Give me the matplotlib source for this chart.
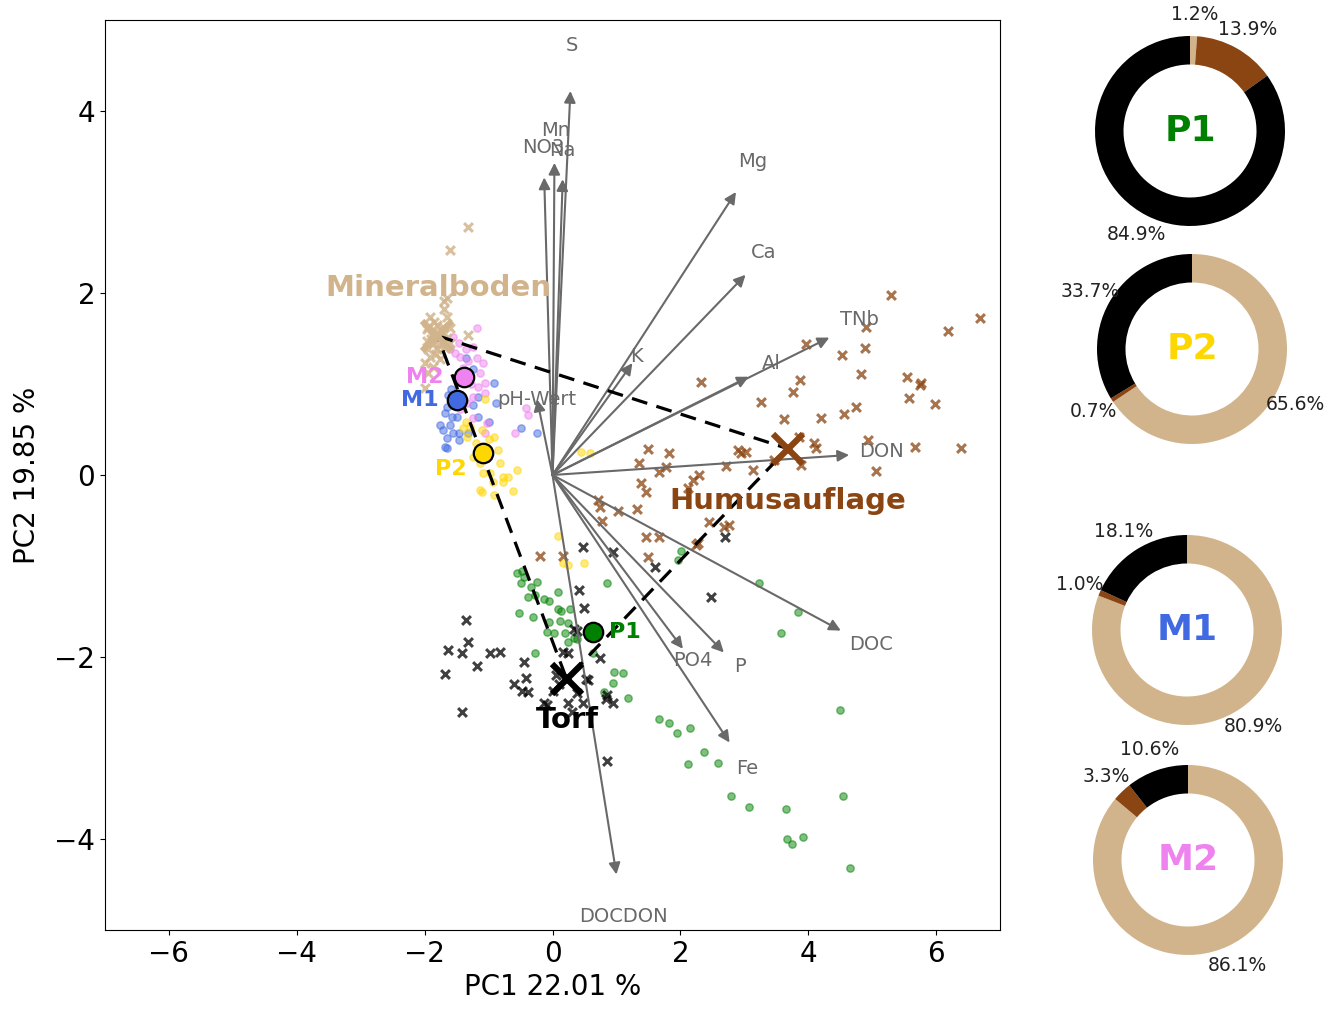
import matplotlib
matplotlib.use("Agg")
import matplotlib.pyplot as plt
import numpy as np

# ---------------- data ----------------
var_names = ["S", "Mn", "NO3", "Na", "Mg", "Ca", "K", "Al", "TNb", "DON",
             "DOC", "PO4", "P", "Fe", "DOCDON", "pH-Wert"]
var_tip_x = [0.28, 0.03, -0.13, 0.16, 2.87, 3.02, 1.25, 3.07, 4.33, 4.64,
             4.51, 2.04, 2.68, 2.77, 1.00, -0.24]
var_tip_y = [4.22, 3.43, 3.27, 3.25, 3.11, 2.20, 1.23, 1.08, 1.51, 0.22,
             -1.71, -1.91, -1.95, -2.94, -4.39, 0.83]
var_lab_x = [0.31, 0.05, -0.14, 0.16, 3.13, 3.31, 1.32, 3.42, 4.80, 5.14,
             4.98, 2.19, 2.93, 3.04, 1.11, -0.25]
var_lab_y = [4.72, 3.79, 3.60, 3.57, 3.45, 2.45, 1.30, 1.22, 1.71, 0.26,
             -1.86, -2.04, -2.10, -3.23, -4.85, 0.83]

# end members (sources)
em_names = ["Mineralboden", "Humusauflage", "Torf"]
em_x = [-1.80, 3.68, 0.22]
em_y = [1.53, 0.29, -2.24]
em_lab_x = [-1.79, 3.68, 0.24]
em_lab_y = [2.05, -0.29, -2.69]

mineral_x = [-1.32, -1.61, -1.69, -1.65, -1.91, -1.65, -1.94, -1.80, -1.71, -1.60,
             -1.88, -1.76, -1.65, -1.96, -1.87, -1.94, -1.80, -1.91, -1.99, -1.76,
             -1.87, -1.94, -1.32, -1.60, -1.99, -1.85, -1.72, -1.90, -1.78, -1.68,
             -1.83, -1.97, -1.70, -1.86]
mineral_y = [2.72, 2.47, 1.91, 1.95, 1.74, 1.74, 1.63, 1.65, 1.63, 1.62,
             1.54, 1.52, 1.51, 1.47, 1.45, 1.38, 1.38, 1.30, 1.23, 1.27,
             1.19, 1.12, 1.54, 1.45, 0.96, 1.58, 1.57, 1.50, 1.43, 1.40,
             1.33, 1.60, 1.82, 1.68]

humus_x = [5.30, 6.69, 6.18, 4.91, 4.89, 4.53, 3.97, 4.83, 5.55, 5.77,
           5.75, 5.58, 5.99, 3.87, 3.76, 3.26, 2.32, 4.75, 4.56, 4.20,
           3.62, 3.86, 4.09, 4.12, 4.94, 5.67, 6.39, 5.06, 3.89, 2.90,
           3.02, 2.95, 2.71, 3.13, 3.46, 1.82, 1.49, 1.35, 1.66, 1.77,
           2.29, 2.19, 2.12, 1.38, 1.46, 0.71, 0.75, 1.02, 1.32, 0.78,
           1.46, 1.66, 2.45, 2.68, 2.76, 2.24, -0.20, 0.16, 1.50, 2.27]
humus_y = [1.98, 1.72, 1.58, 1.63, 1.40, 1.32, 1.44, 1.11, 1.08, 1.01,
           0.99, 0.85, 0.78, 1.04, 0.91, 0.80, 1.02, 0.75, 0.67, 0.63,
           0.62, 0.42, 0.35, 0.30, 0.39, 0.31, 0.30, 0.04, 0.11, 0.28,
           0.25, 0.24, 0.10, 0.06, 0.17, 0.24, 0.29, 0.13, 0.03, 0.09,
           0.00, -0.06, -0.14, -0.09, -0.19, -0.28, -0.35, -0.40, -0.37, -0.50,
           -0.68, -0.68, -0.52, -0.57, -0.55, -0.77, -0.89, -0.89, -0.90, -0.75]

torf_x = [-1.36, -1.32, -1.63, -1.41, -0.97, -0.82, -1.18, -1.68, -1.41, -0.45,
          -0.42, -0.61, -0.47, -0.39, 0.00, -0.08, 0.24, 0.39, 0.55, 0.47,
          0.39, 0.17, 0.74, 0.86, 0.94, 0.83, 0.86, -0.14, 0.24, 0.52,
          0.33, 0.47, 0.94, 1.60, 0.41, 0.49, 2.70, 2.48, 0.30, 0.10,
          0.05]
torf_y = [-1.59, -1.83, -1.92, -1.96, -1.96, -1.94, -2.10, -2.19, -2.60, -2.06,
          -2.23, -2.30, -2.37, -2.39, -2.37, -2.53, -2.50, -2.40, -2.25, -2.51,
          -1.71, -1.95, -2.01, -2.42, -2.50, -2.46, -3.14, -2.51, -1.96, -2.24,
          -1.69, -0.79, -0.85, -1.01, -1.26, -1.46, -0.68, -1.34, -2.60, -2.30,
          -2.20]

# samples (mixtures)
m1_x = [-1.36, -1.24, -0.92, -1.16, -1.63, -1.65, -1.68, -1.76, -1.60, -1.49,
        -1.47, -1.65, -1.71, -1.55, -1.24, -1.16, -0.89, -0.50, -0.24, -1.32,
        -1.68, -1.57, -1.00, -1.65, -1.47, -1.58, -1.40]
m1_y = [1.29, 1.16, 1.01, 0.86, 0.88, 0.75, 0.68, 0.55, 0.55, 0.64,
        0.46, 0.41, 0.50, 0.46, 0.77, 0.64, 0.79, 0.52, 0.46, 0.46,
        0.31, 0.64, 0.58, 0.30, 0.39, 0.95, 1.05]

m2_x = [-1.18, -1.55, -1.47, -1.36, -1.24, -1.18, -1.08, -1.32, -1.44, -1.52,
        -1.60, -1.13, -1.05, -1.16, -1.05, -1.33, -1.24, -1.02, -1.05, -0.42,
        -0.39, -0.58, -1.44, -1.25, -1.40, -1.28]
m2_y = [1.62, 1.52, 1.45, 1.38, 1.41, 1.29, 1.23, 1.25, 1.30, 1.34,
        1.38, 1.12, 1.01, 0.97, 0.90, 0.79, 0.86, 0.57, 0.46, 0.74,
        0.66, 0.46, 0.72, 0.63, 1.18, 1.00]

p1_x = [-0.55, -0.47, -0.45, -0.50, -0.34, -0.25, -0.39, -0.14, -0.06, 0.08,
        0.86, -0.53, -0.30, 0.09, 0.13, 0.27, -0.06, -0.08, 0.02, 0.20,
        0.24, 0.34, 0.24, -0.28, 0.64, 0.96, 1.11, 0.94, 0.80, 1.18,
        2.01, 1.96, 3.23, 3.84, 3.57, 1.66, 1.83, 1.94, 2.15, 2.37,
        2.12, 2.59, 2.79, 3.07, 3.65, 3.67, 3.75, 3.92, 4.50, 4.55,
        4.66, -0.27, 0.39, 0.12]
p1_y = [-1.08, -1.05, -1.12, -1.19, -1.23, -1.18, -1.34, -1.36, -1.38, -1.29,
        -1.19, -1.52, -1.56, -1.47, -1.49, -1.47, -1.62, -1.73, -1.74, -1.74,
        -1.63, -1.79, -1.84, -1.96, -1.96, -2.17, -2.18, -2.29, -2.38, -2.45,
        -0.83, -0.93, -1.19, -1.51, -1.74, -2.68, -2.72, -2.83, -2.78, -3.04,
        -3.18, -3.17, -3.53, -3.65, -3.67, -4.00, -4.06, -3.98, -2.58, -3.53,
        -4.32, -1.32, -1.80, -1.60]

p2_x = [-1.05, -1.36, -1.29, -1.40, -1.10, -0.92, -1.33, -0.86, -1.16, -1.25,
        -1.02, -0.82, -1.13, -1.08, -0.97, -0.78, -0.69, -0.56, -0.78, -0.93,
        -1.13, -0.92, -0.62, -1.10, 0.44, 0.58, 0.09, 0.16, 0.24, 0.49,
        -1.20, -1.00]
p2_y = [0.83, 0.58, 0.53, 0.52, 0.50, 0.42, 0.42, 0.28, 0.28, 0.20,
        0.20, 0.13, 0.13, 0.02, 0.02, -0.02, -0.02, 0.05, -0.08, -0.08,
        -0.17, -0.22, -0.18, -0.19, 0.25, 0.24, -0.67, -0.97, -0.99, -0.97,
        0.35, 0.40]

sample_names = ["M2", "M1", "P2", "P1"]
sample_cx = [-1.38, -1.49, -1.08, 0.64]
sample_cy = [1.08, 0.82, 0.24, -1.73]
sample_lab_x = [-1.70, -1.78, -1.35, 0.88]
sample_lab_y = [1.08, 0.82, 0.07, -1.73]

# mixing proportions: Mineralboden, Humusauflage, Torf (%)
pie_names = ["P1", "P2", "M1", "M2"]
pie_mineral = [1.2, 65.6, 80.9, 86.1]
pie_humus = [13.9, 0.7, 1.0, 3.3]
pie_torf = [84.9, 33.7, 18.1, 10.6]

# ---------------- style ----------------
C_MIN, C_HUM, C_TORF = "tan", "saddlebrown", "black"
sample_colors = {"M2": "violet", "M1": "royalblue", "P2": "gold", "P1": "green"}
arrow_col = "dimgray"

W, H = 1344, 1011
fig = plt.figure(figsize=(W / 100, H / 100), dpi=100)
ax = fig.add_axes([105 / W, 1 - 930 / H, 895 / W, 910 / H])

# samples
ax.scatter(m1_x, m1_y, s=28, color=sample_colors["M1"], alpha=0.5, zorder=2)
ax.scatter(m2_x, m2_y, s=28, color=sample_colors["M2"], alpha=0.5, zorder=2)
ax.scatter(p2_x, p2_y, s=28, color=sample_colors["P2"], alpha=0.5, zorder=2)
ax.scatter(p1_x, p1_y, s=28, color=sample_colors["P1"], alpha=0.5, zorder=2)

# end member sample points
ax.scatter(mineral_x, mineral_y, marker="x", s=40, linewidths=2.2, color=C_MIN, alpha=0.85, zorder=2)
ax.scatter(humus_x, humus_y, marker="x", s=40, linewidths=2.2, color=C_HUM, alpha=0.75, zorder=2)
ax.scatter(torf_x, torf_y, marker="x", s=40, linewidths=2.2, color=C_TORF, alpha=0.75, zorder=2)

# loadings arrows
for name, tx, ty, lx, ly in zip(var_names, var_tip_x, var_tip_y, var_lab_x, var_lab_y):
    ax.annotate("", xy=(tx, ty), xytext=(0, 0),
                arrowprops=dict(arrowstyle="-|>", color=arrow_col, lw=1.5,
                                mutation_scale=17, shrinkA=0, shrinkB=0),
                zorder=3)
    ax.text(lx, ly, name, color=arrow_col, fontsize=14, ha="center", va="center", zorder=4)

# mixing triangle
tri_x = em_x + [em_x[0]]
tri_y = em_y + [em_y[0]]
ax.plot(tri_x, tri_y, "k--", lw=2.3, dashes=(5, 3), zorder=5)

# end member centroids
for x, y, c in zip(em_x, em_y, [C_MIN, C_HUM, C_TORF]):
    ax.plot(x, y, marker="x", color=c, markersize=22, mew=4.5, zorder=6, ls="none")
for name, lx, ly, c in zip(em_names, em_lab_x, em_lab_y, [C_MIN, C_HUM, C_TORF]):
    ax.text(lx, ly, name, color=c, fontsize=21, fontweight="bold",
            ha="center", va="center", zorder=7)

# sample centroids
for name, x, y, lx, ly in zip(sample_names, sample_cx, sample_cy, sample_lab_x, sample_lab_y):
    c = sample_colors[name]
    ax.plot(x, y, marker="o", color=c, markersize=14, mec="black", mew=1.6,
            zorder=8, ls="none")
    ha = "left" if name == "P1" else "right"
    ax.text(lx, ly, name, color=c, fontsize=16, fontweight="bold",
            ha=ha, va="center", zorder=8)

ax.set_xlim(-7, 7)
ax.set_ylim(-5, 5)
ax.set_xticks([-6, -4, -2, 0, 2, 4, 6])
ax.set_yticks([-4, -2, 0, 2, 4])
ax.tick_params(labelsize=20)
ax.set_xlabel("PC1 22.01 %", fontsize=20)
ax.set_ylabel("PC2 19.85 %", fontsize=20, labelpad=10)

# donut charts
pie_centers = [(1190, 131), (1192, 349), (1187, 630), (1188, 860)]
r_px = 95
for name, (cx, cy), mi, hu, to in zip(pie_names, pie_centers, pie_mineral, pie_humus, pie_torf):
    size = r_px * 2.5
    pax = fig.add_axes([(cx - size / 2) / W, 1 - (cy + size / 2) / H, size / W, size / H])
    pax.pie([mi, hu, to], colors=[C_MIN, C_HUM, C_TORF], startangle=90,
            counterclock=False, autopct="%1.1f%%", pctdistance=1.23,
            wedgeprops=dict(width=0.3), textprops=dict(fontsize=13.5, color="#222222"))
    pax.text(0, 0, name, color=sample_colors[name], fontsize=26, fontweight="bold",
             ha="center", va="center")

fig.savefig("out.png", dpi=100)
